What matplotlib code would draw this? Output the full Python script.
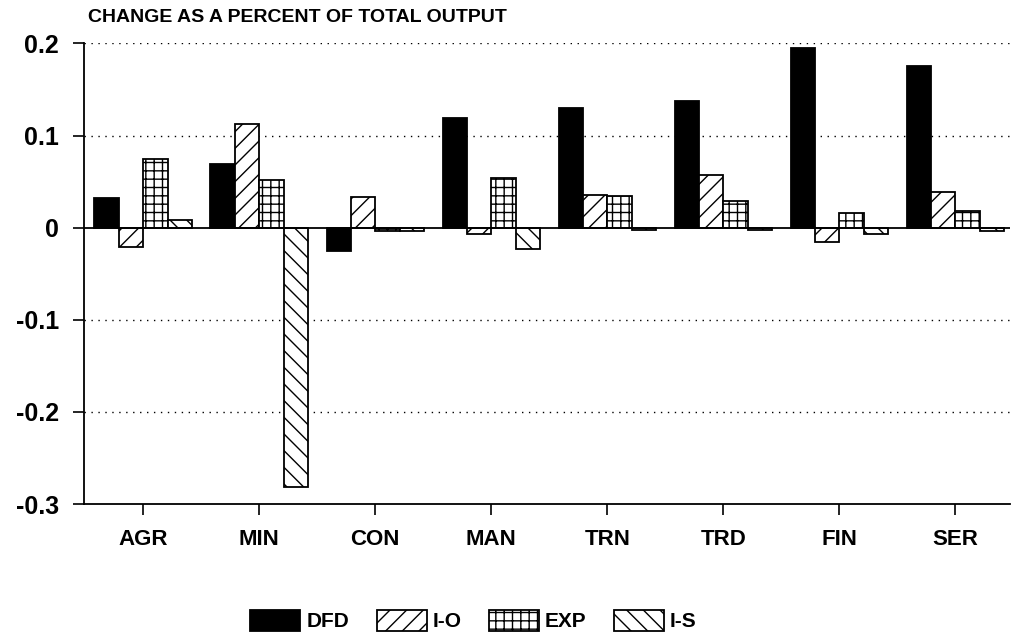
import matplotlib
matplotlib.use("Agg")
import matplotlib.pyplot as plt
import numpy as np

categories = ["AGR", "MIN", "CON", "MAN", "TRN", "TRD", "FIN", "SER"]
series_names = ["DFD", "I-O", "EXP", "I-S"]
dfd = [0.032, 0.069, -0.025, 0.119, 0.130, 0.137, 0.195, 0.176]
io = [-0.021, 0.113, 0.033, -0.007, 0.035, 0.057, -0.016, 0.039]
exp_ = [0.075, 0.052, -0.004, 0.054, 0.034, 0.029, 0.016, 0.018]
i_s = [0.008, -0.282, -0.004, -0.023, -0.002, -0.003, -0.007, -0.004]
yticks = [0.2, 0.1, 0, -0.1, -0.2, -0.3]
ytick_labels = ["0.2", "0.1", "0", "-0.1", "-0.2", "-0.3"]

plt.rcParams['font.family'] = ['Liberation Sans', 'DejaVu Sans']
plt.rcParams['hatch.linewidth'] = 1.0

fig = plt.figure(figsize=(10.12, 6.41), dpi=100)
ax = fig.add_axes([0.083, 0.2137, 0.915, 0.7185])

x = np.arange(len(categories))
w = 0.21
styles = [
    dict(facecolor="black", hatch=None),
    dict(facecolor="white", hatch="//"),
    dict(facecolor="white", hatch="++"),
    dict(facecolor="white", hatch="\\\\"),
]
for i, (vals, name, st) in enumerate(zip([dfd, io, exp_, i_s], series_names, styles)):
    ax.bar(x + (i - 1.5) * w, vals, w, label=name, edgecolor="black",
           linewidth=1.3, zorder=3, **st)

ax.set_xlim(-0.51, 7.47)
ax.set_ylim(-0.3, 0.2)
ax.set_yticks(yticks)
ax.set_yticklabels(ytick_labels, fontsize=18, fontweight="bold")
ax.set_xticks(x)
ax.set_xticklabels(categories, fontsize=16, fontweight="bold")
ax.tick_params(axis="y", direction="out", length=8, width=1.2, pad=10)
ax.tick_params(axis="x", direction="out", length=8, width=1.2, pad=10)

for yv in [0.2, 0.1, -0.1, -0.2]:
    ax.axhline(yv, color="black", linestyle=(0, (1, 4)), linewidth=1.0, zorder=1)
ax.axhline(0, color="black", linewidth=1.3, zorder=4)

ax.spines["top"].set_visible(False)
ax.spines["right"].set_visible(False)
ax.spines["left"].set_linewidth(1.3)
ax.spines["bottom"].set_linewidth(1.3)

fig.text(0.087, 0.972, "CHANGE AS A PERCENT OF TOTAL OUTPUT", fontsize=14,
         fontweight="bold", ha="left", va="center")

leg = fig.legend(loc="center", bbox_to_anchor=(0.468, 0.032), ncol=4, frameon=False,
                 handlelength=2.4, handleheight=1.2, columnspacing=1.3,
                 handletextpad=0.3, prop=dict(size=15, weight="bold"))

fig.savefig("out.png", dpi=100)
